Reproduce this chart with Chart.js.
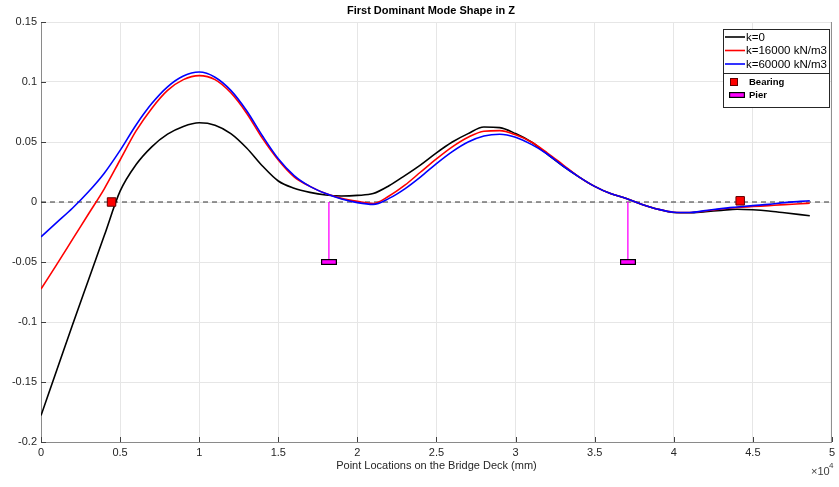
<!DOCTYPE html>
<html>
<head>
<meta charset="utf-8">
<title>First Dominant Mode Shape in Z</title>
<script src="https://cdn.jsdelivr.net/npm/chart.js@4.4.0/dist/chart.umd.min.js"></script>
<style>
body{margin:0;background:#fff;}
#wrap{width:839px;height:487px;}
</style>
</head>
<body>
<div id="wrap"><canvas id="chart" width="839" height="487"></canvas></div>
<script>
// point locations along the deck (mm)
const xPos = [0,1000,2000,3000,4000,5000,6000,7000,8000,9000,10000,11000,12000,13000,14000,15000,16000,17000,18000,19000,20000,21000,22000,23000,24000,25000,26000,27000,28000,29000,30000,31000,32000,33000,34000,35000,36000,37000,38000,39000,40000,41000,42000,43000,44000,45000,46000,47000,48000,48600];
const kZero = [-0.178,-0.140,-0.102,-0.065,-0.028,0.009,0.031,0.046,0.0565,0.063,0.066,0.064,0.057,0.045,0.030,0.0175,0.0115,0.008,0.0058,0.005,0.0055,0.007,0.0135,0.022,0.031,0.041,0.050,0.057,0.0625,0.062,0.057,0.050,0.040,0.030,0.021,0.013,0.007,0.003,-0.002,-0.006,-0.0088,-0.009,-0.008,-0.007,-0.006,-0.0065,-0.0075,-0.009,-0.0105,-0.0114];
const k16000 = [-0.0725,-0.052,-0.031,-0.010,0.011,0.035,0.059,0.078,0.093,0.102,0.1053,0.102,0.091,0.074,0.053,0.035,0.021,0.013,0.007,0.003,0.0005,-0.0012,0.005,0.014,0.025,0.036,0.046,0.054,0.059,0.0595,0.056,0.050,0.041,0.031,0.021,0.013,0.007,0.003,-0.002,-0.006,-0.0085,-0.0088,-0.0075,-0.0058,-0.0046,-0.0038,-0.003,-0.0022,-0.0015,-0.001];
const k60000 = [-0.029,-0.017,-0.005,0.0085,0.024,0.043,0.064,0.082,0.096,0.105,0.1083,0.104,0.093,0.076,0.055,0.036,0.022,0.013,0.007,0.0025,-0.0005,-0.002,0.003,0.011,0.021,0.032,0.042,0.050,0.055,0.0565,0.054,0.048,0.040,0.030,0.021,0.013,0.007,0.003,-0.002,-0.006,-0.0085,-0.0088,-0.0072,-0.0055,-0.0042,-0.003,-0.002,-0.0005,0.0005,0.001];
const bearingX = [4460, 44200];
const bearingY = [0, 0.001];
const pierX = [18200, 37100];
const pierY = [-0.05, -0.05];
const seriesNames = ['k=0','k=16000 kN/m3','k=60000 kN/m3'];
const seriesColors = ['#000000','#ff0000','#0000ff'];

const FONT = '"Liberation Sans", Arial, Helvetica, sans-serif';

function toPts(xs, ys){
  return xs.map((x,i)=>({x:x,y:ys[i]}));
}

function pierIcon(){
  const c=document.createElement('canvas');
  c.width=16; c.height=6;
  const g=c.getContext('2d');
  g.fillStyle='#ff00ff';
  g.fillRect(0,0,16,6);
  g.strokeStyle='#000';
  g.lineWidth=1.2;
  g.strokeRect(0.6,0.6,14.8,4.8);
  return c;
}
const pierImg = pierIcon();

let pierLine = [];
pierX.forEach((px,i)=>{
  pierLine.push({x:px,y:0});
  pierLine.push({x:px,y:pierY[i]});
  pierLine.push({x:px,y:null});
});

const decoPlugin = {
  id:'deco',
  afterDraw(chart){
    const ctx=chart.ctx, a=chart.chartArea;
    const xs=chart.scales.x, ys=chart.scales.y;
    ctx.save();
    // right edge of the box
    ctx.strokeStyle='#8a8a8a';
    ctx.lineWidth=1;
    ctx.beginPath();
    ctx.moveTo(a.right-0.5,a.top);
    ctx.lineTo(a.right-0.5,a.bottom);
    ctx.stroke();
    // inward ticks
    ctx.strokeStyle='#404040';
    ctx.beginPath();
    xs.ticks.forEach(t=>{
      const p=Math.round(xs.getPixelForValue(t.value))+0.5;
      ctx.moveTo(p,a.bottom);ctx.lineTo(p,a.bottom-5);
    });
    ys.ticks.forEach(t=>{
      const p=Math.round(ys.getPixelForValue(t.value))+0.5;
      ctx.moveTo(a.left,p);ctx.lineTo(a.left+5,p);
    });
    ctx.stroke();

    // title
    ctx.fillStyle='#000';
    ctx.font='bold 11px '+FONT;
    ctx.textAlign='center';
    ctx.textBaseline='middle';
    ctx.fillText('First Dominant Mode Shape in Z',431,11);

    // x10^4
    ctx.fillStyle='#404040';
    ctx.textAlign='left';
    ctx.font='11px '+FONT;
    ctx.fillText('\u00d710',811,472);
    ctx.font='8px '+FONT;
    ctx.fillText('4',829,466);

    // legend boxes
    const lx=723, lw=106;
    ctx.fillStyle='#fff';
    ctx.fillRect(lx,29,lw,78);
    ctx.strokeStyle='#262626';
    ctx.lineWidth=1;
    ctx.strokeRect(lx+0.5,29.5,lw,44);
    ctx.strokeRect(lx+0.5,73.5,lw,34);
    ctx.font='11.5px '+FONT;
    ctx.textBaseline='middle';
    ctx.textAlign='left';
    seriesNames.forEach((n,i)=>{
      const y=37+i*13.5;
      ctx.strokeStyle=seriesColors[i];
      ctx.lineWidth=1.6;
      ctx.beginPath();ctx.moveTo(725,y);ctx.lineTo(745,y);ctx.stroke();
      ctx.fillStyle='#000';
      ctx.fillText(n,746,y+0.5);
    });
    // bearing marker
    ctx.fillStyle='#ff0000';
    ctx.fillRect(730,78,8,8);
    ctx.strokeStyle='#600000';
    ctx.lineWidth=1;
    ctx.strokeRect(730.5,78.5,7,7);
    ctx.drawImage(pierImg,729,92);
    ctx.fillStyle='#000';
    ctx.font='bold 9.5px '+FONT;
    ctx.fillText('Bearing',749,82);
    ctx.fillText('Pier',749,95);
    ctx.restore();
  }
};

const curveStyle = {
  showLine:true, pointRadius:0, borderWidth:1.6, fill:false,
  cubicInterpolationMode:'monotone'
};

new Chart(document.getElementById('chart'),{
  type:'scatter',
  data:{
    datasets:[
      {label:'Bearing',data:toPts(bearingX,bearingY),pointStyle:'rect',pointRadius:6,backgroundColor:'#ff0000',borderColor:'#600000',borderWidth:1,showLine:false},
      {label:'Pier',data:toPts(pierX,pierY),pointStyle:pierImg,pointRadius:5,showLine:false},
      Object.assign({label:seriesNames[2],data:toPts(xPos,k60000),borderColor:seriesColors[2]},curveStyle),
      Object.assign({label:seriesNames[1],data:toPts(xPos,k16000),borderColor:seriesColors[1]},curveStyle),
      Object.assign({label:seriesNames[0],data:toPts(xPos,kZero),borderColor:seriesColors[0]},curveStyle),
      {label:'pierline',data:pierLine,showLine:true,spanGaps:false,pointRadius:0,borderColor:'#ff00ff',borderWidth:1.3},
      {label:'zero',data:[{x:0,y:0},{x:50000,y:0}],showLine:true,pointRadius:0,borderColor:'#333333',borderWidth:1,borderDash:[5,4]}
    ]
  },
  options:{
    responsive:false,
    animation:false,
    devicePixelRatio:1,
    layout:{padding:{top:22,right:5,left:0,bottom:0}},
    plugins:{legend:{display:false},tooltip:{enabled:false},title:{display:false}},
    scales:{
      x:{
        type:'linear',min:0,max:50000,
        afterFit(s){s.height=45;},
        grid:{color:'#e6e6e6',drawTicks:false},
        border:{display:true,color:'#8a8a8a',width:1},
        ticks:{stepSize:5000,padding:4,color:'#262626',font:{family:FONT,size:11},maxRotation:0,
          callback:v=>String(+(v/10000).toFixed(2))},
        title:{display:true,text:'Point Locations on the Bridge Deck (mm)',color:'#262626',
          font:{family:FONT,size:11},padding:{top:0,bottom:14}}
      },
      y:{
        min:-0.2,max:0.15,
        afterFit(s){s.width=41;},
        grid:{color:'#e6e6e6',drawTicks:false},
        border:{display:true,color:'#8a8a8a',width:1},
        ticks:{stepSize:0.05,padding:4,color:'#262626',font:{family:FONT,size:11},
          callback:v=>Math.abs(v)<1e-9?'0':String(+v.toFixed(2))}
      }
    }
  },
  plugins:[decoPlugin]
});
</script>
</body>
</html>
